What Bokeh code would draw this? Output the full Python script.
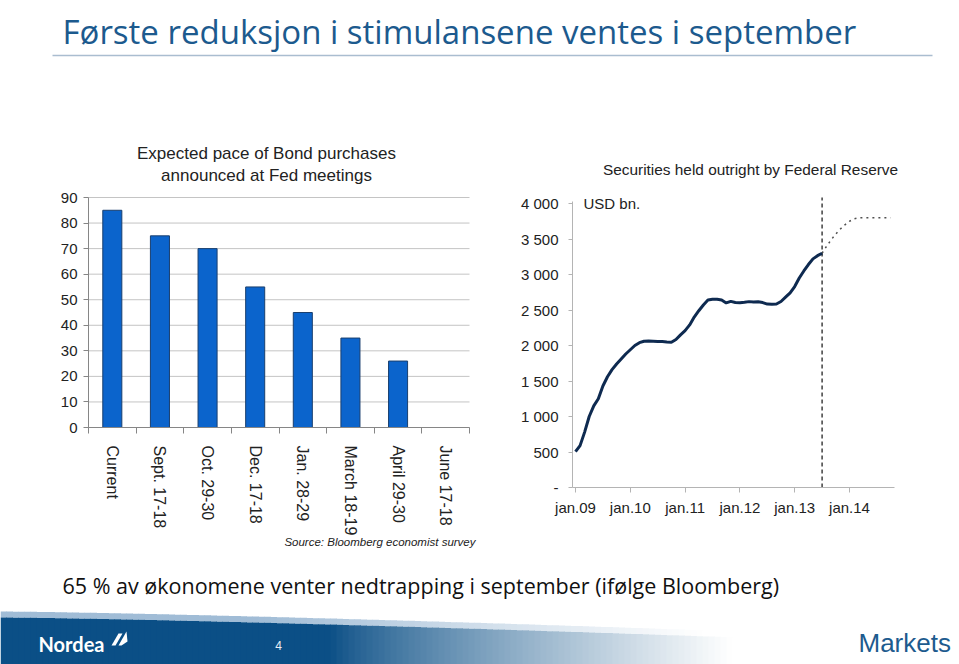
import math
import numpy as np
import pandas as pd
from bokeh.plotting import figure
from bokeh.models import Range1d, FixedTicker, Label, ColumnDataSource
from bokeh.layouts import column, row
from bokeh.core.properties import value
from bokeh.embed import file_html
from bokeh.resources import INLINE

# ---------------- data ----------------
meetings = ["Current", "Sept. 17-18", "Oct. 29-30", "Dec. 17-18", "Jan. 28-29",
            "March 18-19", "April 29-30", "June 17-18"]
pace = [85, 75, 70, 55, 45, 35, 26, float("nan")]

hist_start = "2009-01-01"
holdings = [505, 590, 780, 1000, 1150, 1250, 1430, 1560, 1660, 1740, 1810, 1880,
            1940, 2000, 2040, 2060, 2062, 2060, 2058, 2055, 2050, 2046, 2085, 2150,
            2210, 2290, 2400, 2490, 2570, 2640, 2650, 2650, 2640, 2600, 2622, 2605,
            2603, 2608, 2618, 2612, 2615, 2605, 2583, 2580, 2585, 2620, 2680, 2740,
            2830, 2950, 3050, 3140, 3220, 3265, 3300]
proj_start = "2013-07-01"
projection = [3300, 3400, 3490, 3570, 3640, 3700, 3750, 3785, 3800, 3800,
              3800, 3800, 3800, 3800, 3800, 3800]

y_ticks_left = [0, 10, 20, 30, 40, 50, 60, 70, 80, 90]
y_ticks_right = [0, 500, 1000, 1500, 2000, 2500, 3000, 3500, 4000]
y_labels_right = ["-", "500", "1 000", "1 500", "2 000", "2 500", "3 000", "3 500", "4 000"]
x_years = [2009, 2010, 2011, 2012, 2013, 2014]
x_labels_right = ["jan.09", "jan.10", "jan.11", "jan.12", "jan.13", "jan.14"]


def frac_years(start, n):
    d = pd.date_range(start, periods=n, freq="MS")
    return list(d.year + (d.month - 1) / 12.0)


ARIAL = "Liberation Sans"
TITLE_FONT = "Open Sans"
W = 959


def canvas(w, h, x0, y0):
    p = figure(width=w, height=h, x_range=Range1d(x0, x0 + w), y_range=Range1d(y0 + h, y0),
               output_backend="svg", toolbar_location=None,
               x_axis_location=None, y_axis_location=None, min_border=0)
    p.grid.visible = False
    p.outline_line_color = None
    p.background_fill_color = "white"
    return p


# ---------------- layout constants (page pixels) ----------------
HEADER_H = 186
ROW_BOTTOM = 550
LEFT_W, RIGHT_W = 495, 464

# ---------------- header ----------------
header = canvas(W, HEADER_H, 0, 0)
header.text(x=[62], y=[31], text=["Første reduksjon i stimulansene ventes i september"],
            text_font=value(TITLE_FONT), text_font_size="33px", text_color="#1c5a8e",
            text_baseline="alphabetic", text_align="left")
header.segment(x0=[52], y0=[55], x1=[932], y1=[55], line_color="#aabdd0", line_width=1.5)
header.text(x=[266, 266], y=[153, 175],
            text=["Expected pace of Bond purchases", "announced at Fed meetings"],
            text_font=value(ARIAL), text_font_size="17px", text_color="#222222",
            text_baseline="middle", text_align="center")
header.text(x=[750], y=[169], text=["Securities held outright by Federal Reserve"],
            text_font=value(ARIAL), text_font_size="15.4px", text_color="#222222",
            text_baseline="middle", text_align="center")

# ---------------- left chart ----------------
L_AXIS_X, L_RIGHT_X, L_ZERO_Y, L_90_Y = 88, 469, 427, 197
l_px_x = (L_RIGHT_X - L_AXIS_X) / len(meetings)
l_px_y = (L_ZERO_Y - L_90_Y) / 90.0
left = figure(width=LEFT_W, height=ROW_BOTTOM - HEADER_H,
              x_range=Range1d(-L_AXIS_X / l_px_x, (LEFT_W - L_AXIS_X) / l_px_x),
              y_range=Range1d(-(ROW_BOTTOM - L_ZERO_Y) / l_px_y, 90 + (L_90_Y - HEADER_H) / l_px_y),
              output_backend="svg", toolbar_location=None, min_border=0)
left.outline_line_color = None
left.grid.visible = False
xpos = [i + 0.5 for i in range(len(meetings))]
left.segment(x0=[0] * len(y_ticks_left), y0=y_ticks_left,
             x1=[len(meetings)] * len(y_ticks_left), y1=y_ticks_left,
             line_color="#c4c4c4", line_width=1)
left.vbar(x=xpos, top=pace, width=0.4, fill_color="#0b64cc", line_color="#1a3f6e", line_width=1)
left.yaxis.fixed_location = 0
left.yaxis.ticker = FixedTicker(ticks=y_ticks_left)
left.yaxis.bounds = (0, 90)
left.yaxis.axis_line_color = "#868686"
left.yaxis.major_tick_line_color = "#868686"
left.yaxis.major_tick_out = 5
left.yaxis.major_tick_in = 0
left.yaxis.minor_tick_line_color = None
left.yaxis.major_label_standoff = 6
left.yaxis.major_label_text_font = ARIAL
left.yaxis.major_label_text_font_size = "15px"
left.yaxis.major_label_text_color = "#222222"
left.xaxis.fixed_location = 0
left.xaxis.bounds = (0, len(meetings))
left.xaxis.ticker = FixedTicker(ticks=xpos, minor_ticks=list(range(len(meetings) + 1)))
left.xaxis.major_label_overrides = {x: m for x, m in zip(xpos, meetings)}
left.xaxis.major_label_orientation = -math.pi / 2
left.xaxis.axis_line_color = "#868686"
left.xaxis.major_tick_out = 0
left.xaxis.major_tick_in = 0
left.xaxis.minor_tick_out = 6
left.xaxis.minor_tick_in = 0
left.xaxis.minor_tick_line_color = "#868686"
left.xaxis.major_label_standoff = 12
left.xaxis.major_label_text_font = ARIAL
left.xaxis.major_label_text_font_size = "16px"
left.xaxis.major_label_text_color = "#222222"
left.add_layout(Label(x=(475 - L_AXIS_X) / l_px_x, y=-(541 - L_ZERO_Y) / l_px_y,
                      text="Source: Bloomberg economist survey", text_font=ARIAL,
                      text_font_size="11.5px", text_font_style="italic", text_color="#222222",
                      text_align="right", text_baseline="middle"))

# ---------------- right chart ----------------
R_X0 = LEFT_W                      # page x of right figure
R_AXIS_X, R_JAN09_X, R_RIGHT_X = 572, 575, 894
R_YEAR_PX = (849 - 575) / 5.0
R_ZERO_Y, R_4000_Y, R_DASH_TOP_Y = 487, 203, 197
r_px_y = (R_ZERO_Y - R_4000_Y) / 4000.0
r_top = 4000 + (R_4000_Y - HEADER_H) / r_px_y
r_dash_top = 4000 + (R_4000_Y - R_DASH_TOP_Y) / r_px_y
r_axis_x = 2009 + (R_AXIS_X - R_JAN09_X) / R_YEAR_PX
r_end_x = 2009 + (R_RIGHT_X - R_JAN09_X) / R_YEAR_PX
right = figure(width=RIGHT_W, height=ROW_BOTTOM - HEADER_H,
               x_range=Range1d(2009 + (R_X0 - R_JAN09_X) / R_YEAR_PX,
                               2009 + (R_X0 + RIGHT_W - R_JAN09_X) / R_YEAR_PX),
               y_range=Range1d(-(ROW_BOTTOM - R_ZERO_Y) / r_px_y, r_top),
               output_backend="svg", toolbar_location=None, min_border=0)
right.outline_line_color = None
right.grid.visible = False
hx = frac_years(hist_start, len(holdings))
px = frac_years(proj_start, len(projection))
right.line(px, projection, line_color="#505050", line_width=1.5, line_dash="2 4")
right.segment(x0=[hx[-1]], y0=[0], x1=[hx[-1]], y1=[r_dash_top], line_color="#404040",
              line_width=1.5, line_dash="4 3")
right.line(hx, holdings, line_color="#0e2a50", line_width=3)
right.add_layout(Label(x=2009 + (583 - R_JAN09_X) / R_YEAR_PX, y=4000, text="USD bn.",
                       text_font=ARIAL, text_font_size="15px", text_color="#222222",
                       text_baseline="middle"))
right.yaxis.fixed_location = r_axis_x
right.yaxis.ticker = FixedTicker(ticks=y_ticks_right)
right.yaxis.bounds = (0, 4035)
right.yaxis.major_label_overrides = {t: l for t, l in zip(y_ticks_right, y_labels_right)}
right.xaxis.fixed_location = 0
right.xaxis.bounds = (r_axis_x, r_end_x)
right.xaxis.ticker = FixedTicker(ticks=x_years)
right.xaxis.major_label_overrides = {t: l for t, l in zip(x_years, x_labels_right)}
for ax in (right.xaxis, right.yaxis):
    ax.axis_line_color = "#b4b4b4"
    ax.major_tick_line_color = "#b4b4b4"
    ax.major_tick_in = 0
    ax.minor_tick_line_color = None
    ax.major_label_text_font = ARIAL
    ax.major_label_text_font_size = "15px"
    ax.major_label_text_color = "#222222"
right.yaxis.major_tick_out = 4
right.yaxis.major_label_standoff = 10
right.xaxis.major_tick_out = 5
right.xaxis.major_label_standoff = 6

# ---------------- bottom (text + footer) ----------------
bottom = canvas(W, 664 - ROW_BOTTOM, 0, ROW_BOTTOM)
bottom.text(x=[62], y=[585], text=["65 % av økonomene venter nedtrapping i september (ifølge Bloomberg)"],
            text_font=value(TITLE_FONT), text_font_size="21.5px", text_color="#111111",
            text_baseline="alphabetic", text_align="left")


def top_edge(x):
    return 617 + 14 * (x / 560.0) ** 1.3


dark = np.array([11, 79, 134])
white = np.array([255, 255, 255])
light = np.array([160, 188, 214])
xs, tops, cols, lcols = [], [], [], []
step = 6
for x in range(0, 780, step):
    xm = x + step / 2
    t = 0.0 if xm < 330 else min(1.0, (xm - 330) / 400.0) ** 0.8
    c = dark * (1 - t) + white * t
    lt = min(1.0, max(0.0, (xm - 250) / 450.0))
    lc = light * (1 - lt) + white * lt
    xs.append(x)
    tops.append(top_edge(xm))
    cols.append("#%02x%02x%02x" % tuple(int(v) for v in c))
    lcols.append("#%02x%02x%02x" % tuple(int(v) for v in lc))
src = ColumnDataSource(dict(l=xs, r=[x + step + 0.5 for x in xs], t=tops,
                            b=[665] * len(xs), lt=[t - 6 for t in tops], c=cols, lc=lcols))
bottom.quad(left="l", right="r", top="lt", bottom="t", fill_color="lc", line_color=None, source=src)
bottom.quad(left="l", right="r", top="t", bottom="b", fill_color="c", line_color=None, source=src)
bottom.text(x=[38], y=[643], text=["Nordea"], text_font=value("Lato"), text_font_size="20px",
            text_font_style="bold", text_color="white", text_baseline="middle", text_align="left")
bottom.patches(xs=[[111, 118, 122, 115], [118, 126, 127, 121]],
               ys=[[645, 633, 633, 645], [645, 631, 641, 645]], fill_color="white", line_color=None)
bottom.text(x=[278], y=[645], text=["4"], text_font=value(ARIAL), text_font_size="12px",
            text_color="#e8eef4", text_baseline="middle", text_align="center")
bottom.text(x=[858], y=[642], text=["Markets"], text_font=value(ARIAL), text_font_size="26px",
            text_color="#1d5b8e", text_baseline="middle", text_align="left")

layout = column(header, row(left, right, spacing=0), bottom, spacing=0)

with open("out.html", "w") as f:
    f.write(file_html(layout, INLINE))
